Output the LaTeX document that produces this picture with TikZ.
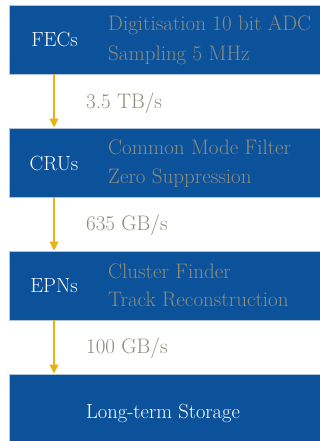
\documentclass[tikz,border=0pt]{standalone}
\usepackage{fontspec}
\usetikzlibrary{arrows.meta}
\definecolor{boxblue}{RGB}{12,82,155}
\definecolor{edgeblue}{RGB}{175,195,215}
\definecolor{graytext}{RGB}{140,140,125}
\definecolor{gold}{RGB}{232,178,20}
\begin{document}
\begin{tikzpicture}[x=1pt,y=-1pt,
  stage/.style={rectangle, fill=boxblue, draw=edgeblue, line width=0.8pt, minimum width=312pt, inner sep=0pt},
  whitelabel/.style={text=white, font=\fontsize{20.5}{20.5}\selectfont\addfontfeature{FakeStretch=1.05}, anchor=base, inner sep=0pt},
  graylabel/.style={text=graytext, font=\fontsize{21}{21}\selectfont\addfontfeature{FakeStretch=1.05}, anchor=base west, inner sep=0pt},
  flow/.style={draw=gold, line width=2.3pt, -{Triangle[length=9pt,width=8.5pt]}}]
\useasboundingbox (0,0) rectangle (320,441);
\fill[white] (0,0) rectangle (320,441);
% stage boxes
\node[stage, minimum height=69pt] (b1) at (165,39.5) {};
\node[stage, minimum height=69pt] (b2) at (165,162.5) {};
\node[stage, minimum height=69pt] (b3) at (165,285.5) {};
\node[stage, minimum height=70pt] (b4) at (165,409) {};
% white labels
\node[whitelabel] (fec) at (54.5,47) {FECs};
\node[whitelabel] (cru) at (54,170) {CRUs};
\node[whitelabel] (epn) at (54,292.5) {EPNs};
\node[whitelabel] (lts) at (163,418) {Long-term Storage};
% gray descriptions
\node[graylabel] (d1a) at (108,31) {Digitisation 10 bit ADC};
\node[graylabel] (d1b) at (108,61) {Sampling 5 MHz};
\node[graylabel] (d2a) at (108,154) {Common Mode Filter};
\node[graylabel] (d2b) at (108,183) {Zero Suppression};
\node[graylabel] (d3a) at (108,278) {Cluster Finder};
\node[graylabel] (d3b) at (108,306.5) {Track Reconstruction};
% rates
\node[graylabel] (r1) at (86,108) {3.5 TB/s};
\node[graylabel] (r2) at (86,230.5) {635 GB/s};
\node[graylabel] (r3) at (86,353) {100 GB/s};
% arrows
\draw[flow] (b1.south -| cru) -- (b2.north -| cru);
\draw[flow] (b2.south -| cru) -- (b3.north -| cru);
\draw[flow] (b3.south -| cru) -- (b4.north -| cru);
\end{tikzpicture}
\end{document}
